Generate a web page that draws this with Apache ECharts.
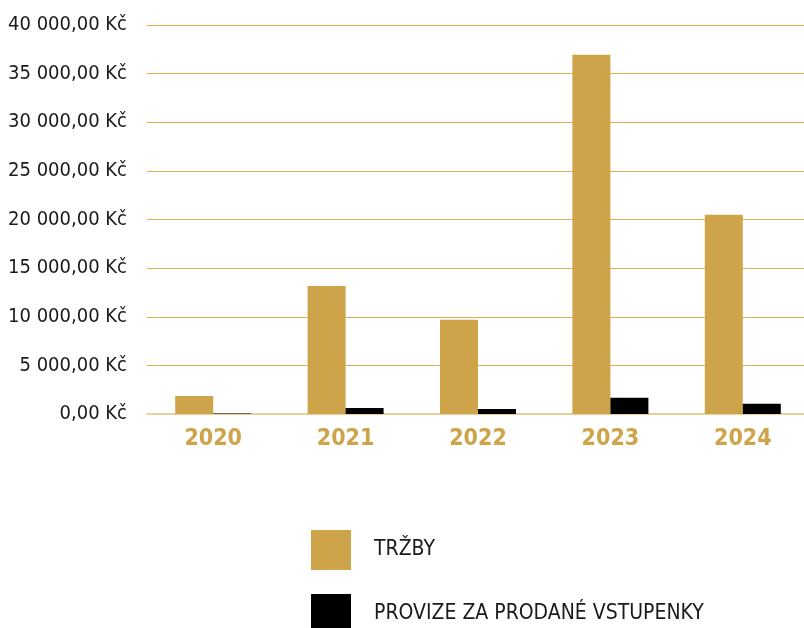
<!DOCTYPE html>
<html><head><meta charset="utf-8">
<script src="https://cdn.jsdelivr.net/npm/echarts@6/dist/echarts.min.js"></script>
<style>html,body{margin:0;padding:0;background:#fff}#c{width:804px;height:628px}</style>
</head><body><div id="c"></div>
<script>
const categories = ['2020','2021','2022','2023','2024'];
const trzby = [1850, 13150, 9700, 36950, 20500];
const provize = [60, 620, 520, 1680, 1050];
const seriesNames = ['TRŽBY', 'PROVIZE ZA PRODANÉ VSTUPENKY'];
const FONT = '"Liberation Sans Narrow","DejaVu Sans Condensed",sans-serif';
function fmt(v){
  const s = Math.round(v).toString().replace(/\B(?=(\d{3})+(?!\d))/g, ' ');
  return s + ',00 Kč';
}
const legendBase = {left:311, padding:0, itemWidth:40, itemHeight:40, icon:'rect',
  textStyle:{fontFamily:FONT, fontSize:21, color:'#1a1a1a', padding:[3,0,0,18]}};
const chart = echarts.init(document.getElementById('c'));
chart.setOption({
  animation:false,
  grid:{left:147, right:-5, top:25, bottom:214, containLabel:false, outerBoundsMode:'none'},
  xAxis:{type:'category', data:categories,
    axisLine:{show:true, lineStyle:{color:'#e8cf9c', width:2}},
    axisTick:{show:false},
    axisLabel:{color:'#cda449', fontFamily:FONT, fontWeight:'bold', fontSize:23, margin:14}},
  yAxis:{type:'value', min:0, max:40000, interval:5000,
    axisLine:{show:false}, axisTick:{show:false},
    splitLine:{lineStyle:{color:'#dcae50', width:1.2}},
    axisLabel:{color:'#1a1a1a', fontFamily:FONT, fontSize:20, margin:20, formatter:fmt}},
  legend:[
    Object.assign({}, legendBase, {top:530, data:[seriesNames[0]]}),
    Object.assign({}, legendBase, {top:594, data:[seriesNames[1]]})
  ],
  series:[
    {name:seriesNames[0], type:'bar', data:trzby, barWidth:38, barGap:'0%', itemStyle:{color:'#cda449'}},
    {name:seriesNames[1], type:'bar', data:provize, barWidth:38, barGap:'0%', itemStyle:{color:'#000000'}}
  ]
});
</script></body></html>
